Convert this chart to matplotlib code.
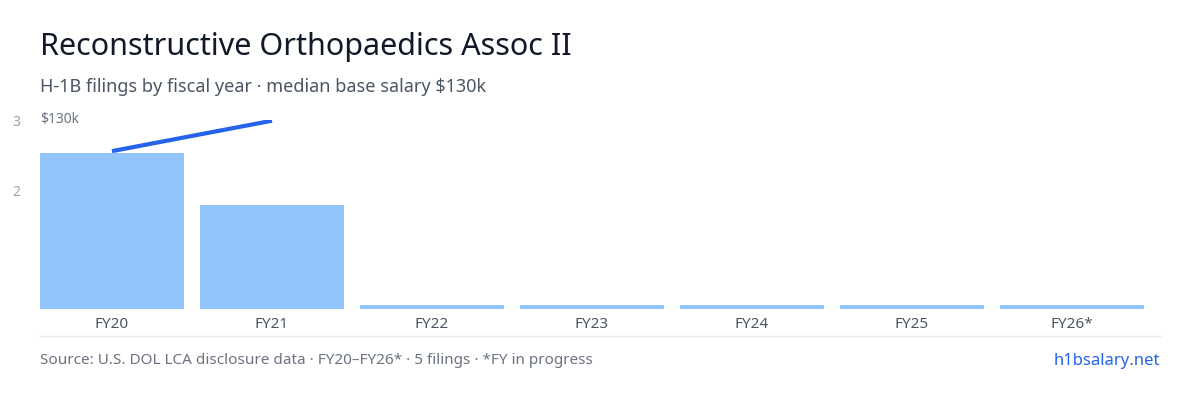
import matplotlib
matplotlib.use("Agg")
import matplotlib.pyplot as plt

years = ["FY20", "FY21", "FY22", "FY23", "FY24", "FY25", "FY26*"]
filings = [3, 2, 0, 0, 0, 0, 0]
salary_years = ["FY20", "FY21"]
salary = [109000, 130000]

plt.rcParams["font.family"] = ["Noto Sans", "DejaVu Sans"]

fig = plt.figure(figsize=(12, 4), dpi=100)
ax = fig.add_axes([40 / 1200, 1 - 309 / 400, 1104 / 1200, 189 / 400])

x = list(range(len(years)))
stub = 0.08
heights = [v if v > 0 else stub for v in filings]
ax.bar(x, heights, width=0.9, color="#93c5fd", zorder=2)
ax.set_xlim(-0.45, len(years) - 0.55)
ymax = 3 * 189 / 156
ax.set_ylim(0, ymax)
ax.set_xticks(x)
ax.set_xticklabels(years, fontsize=11, color="#4b5563")
ax.tick_params(axis="x", length=0, pad=6)
ax.yaxis.tick_right()
ax.set_yticks([ymax, (309 - 191) / 52])
ax.set_yticklabels(["3", "2"], fontsize=10, color="#9ca3af")
ax.tick_params(axis="y", length=0, pad=14)
for s in ax.spines.values():
    s.set_visible(False)

ax2 = ax.twinx()
sx = [years.index(y) for y in salary_years]
ax2.plot(sx, salary, color="#2563eb", lw=3, solid_capstyle="butt", zorder=3)
ax2.set_ylim(0, 130500)
ax2.set_yticks([])
for s in ax2.spines.values():
    s.set_visible(False)

fig.text(40 / 1200, 1 - 120 / 400, "$130k", fontsize=10, color="#6b7280", va="center")
fig.add_artist(plt.Line2D([40 / 1200, 1160 / 1200], [1 - 336 / 400] * 2, color="#e5e7eb", lw=1))

fig.text(40 / 1200, 1 - 47 / 400, "Reconstructive Orthopaedics Assoc II", fontsize=22, color="#111827", va="center")
fig.text(40 / 1200, 1 - 87 / 400, "H-1B filings by fiscal year · median base salary $130k", fontsize=13, color="#4b5563", va="center")
fig.text(40 / 1200, 1 - 361 / 400, "Source: U.S. DOL LCA disclosure data · FY20–FY26* · 5 filings · *FY in progress", fontsize=11, color="#6b7280", va="center")
fig.text(1160 / 1200, 1 - 361 / 400, "h1bsalary.net", fontsize=12, color="#2563eb", va="center", ha="right")

fig.savefig("out.png", dpi=100)
